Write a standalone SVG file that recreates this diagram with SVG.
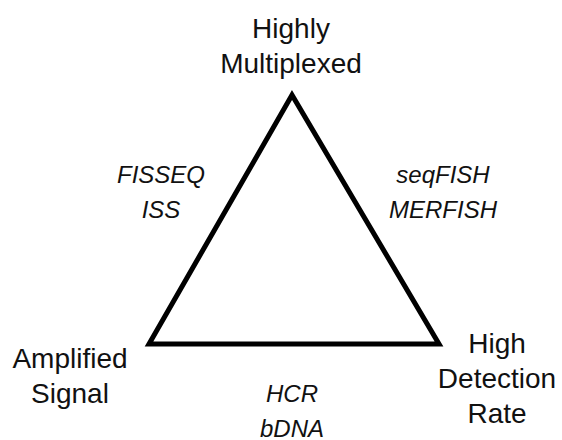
<svg xmlns="http://www.w3.org/2000/svg" width="562" height="440" viewBox="0 0 562 440">
<style>
.lbl{font-family:"Liberation Sans",Arial,sans-serif;font-size:28px;fill:#111;text-anchor:middle}
.m{font-family:"Liberation Sans",Arial,sans-serif;font-size:24px;font-style:italic;fill:#111;text-anchor:middle}
</style>
<rect width="562" height="440" fill="#fff"/>
<g id="connectors">
<polygon points="292,95 149,344 439,344" fill="none" stroke="#000" stroke-width="5" stroke-linejoin="miter"/>
</g>
<g id="node-top"><text class="lbl" x="291" y="38">Highly</text><text class="lbl" x="291" y="73">Multiplexed</text></g>
<g id="node-left"><text class="lbl" x="70" y="368">Amplified</text><text class="lbl" x="70" y="403">Signal</text></g>
<g id="node-right"><text class="lbl" x="497" y="353">High</text><text class="lbl" x="497" y="388">Detection</text><text class="lbl" x="497" y="423">Rate</text></g>
<g id="label-left"><text class="m" x="161" y="183">FISSEQ</text><text class="m" x="161" y="218">ISS</text></g>
<g id="label-right"><text class="m" x="443" y="183">seqFISH</text><text class="m" x="443" y="218">MERFISH</text></g>
<g id="label-bottom"><text class="m" x="292" y="402">HCR</text><text class="m" x="292" y="437">bDNA</text></g>
</svg>
